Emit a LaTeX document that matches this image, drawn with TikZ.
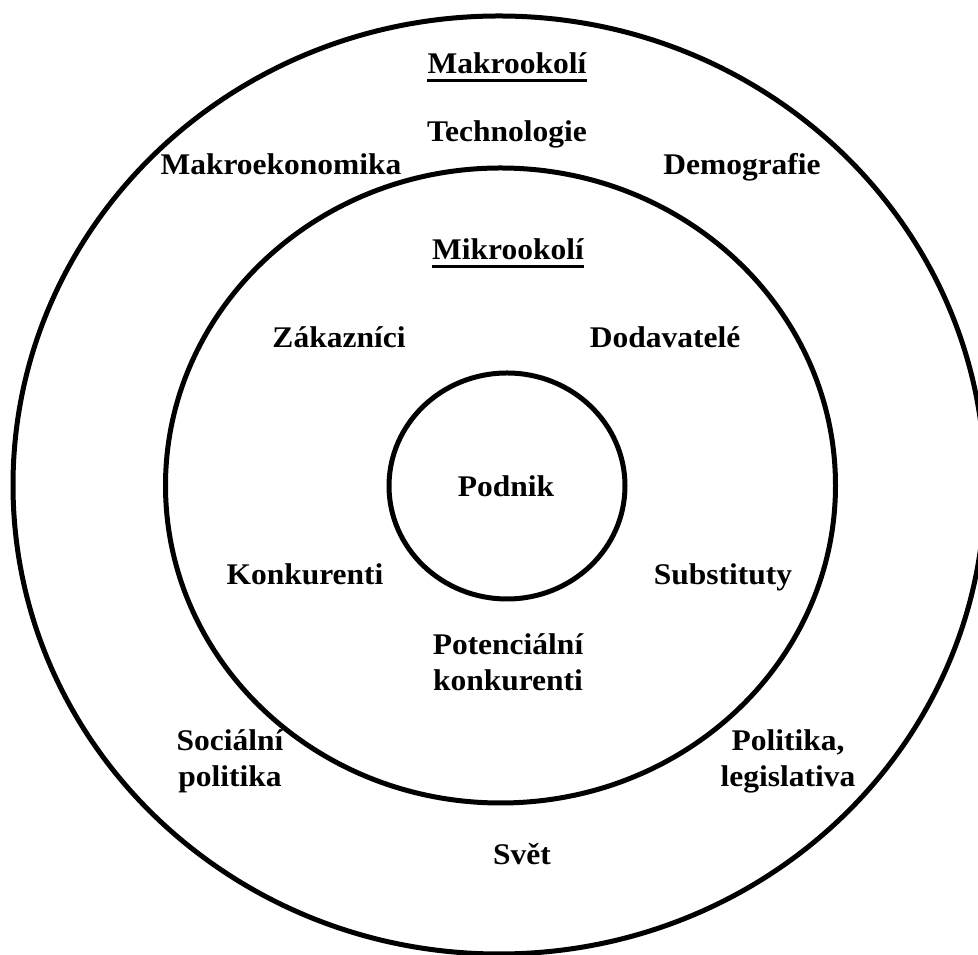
\documentclass[tikz,border=0pt]{standalone}
\usepackage{fontspec}
\setmainfont[FakeStretch=1.05]{Liberation Serif}

\begin{document}
\begin{tikzpicture}[x=1pt,y=1pt]

    \tikzset{
        lbl/.style={font=\bfseries\fontsize{30}{36}\selectfont, inner sep=0pt, align=center, anchor=base},
        ring/.style={line width=5pt},
        uline/.style={line width=3pt}
    }

    \useasboundingbox (0,0) rectangle (978,955);

    % Draw the rings
    \draw[ring] (499,470) ellipse (486 and 469);
    \draw[ring] (500.5,469.5) ellipse (335 and 317.5);
    \draw[ring] (507,469) ellipse (118 and 113);

    % Outer ring
    \node[lbl] (makro) at (507,881) {Makrookolí};
    \draw[uline] ([yshift=-7pt]makro.base west) -- ([yshift=-7pt]makro.base east);
    \node[lbl] (tech) at (507,813) {Technologie};
    \node[lbl] (makroek) at (281,780) {Makroekonomika};
    \node[lbl] (demo) at (742,780) {Demografie};
    \node[lbl] (soc) at (230,168) {Sociální\\politika};
    \node[lbl] (pol) at (788,168) {Politika,\\legislativa};
    \node[lbl] (svet) at (522,90) {Svět};

    % Middle ring
    \node[lbl] (mikro) at (508,695) {Mikrookolí};
    \draw[uline] ([yshift=-7pt]mikro.base west) -- ([yshift=-7pt]mikro.base east);
    \node[lbl] (zak) at (339,607) {Zákazníci};
    \node[lbl] (dod) at (665,607) {Dodavatelé};
    \node[lbl] (konk) at (305,370) {Konkurenti};
    \node[lbl] (subst) at (723,370) {Substituty};
    \node[lbl] (potkonk) at (508,264) {Potenciální\\konkurenti};

    % Inner circle
    \node[lbl] (podnik) at (506,458) {Podnik};

\end{tikzpicture}
\end{document}
